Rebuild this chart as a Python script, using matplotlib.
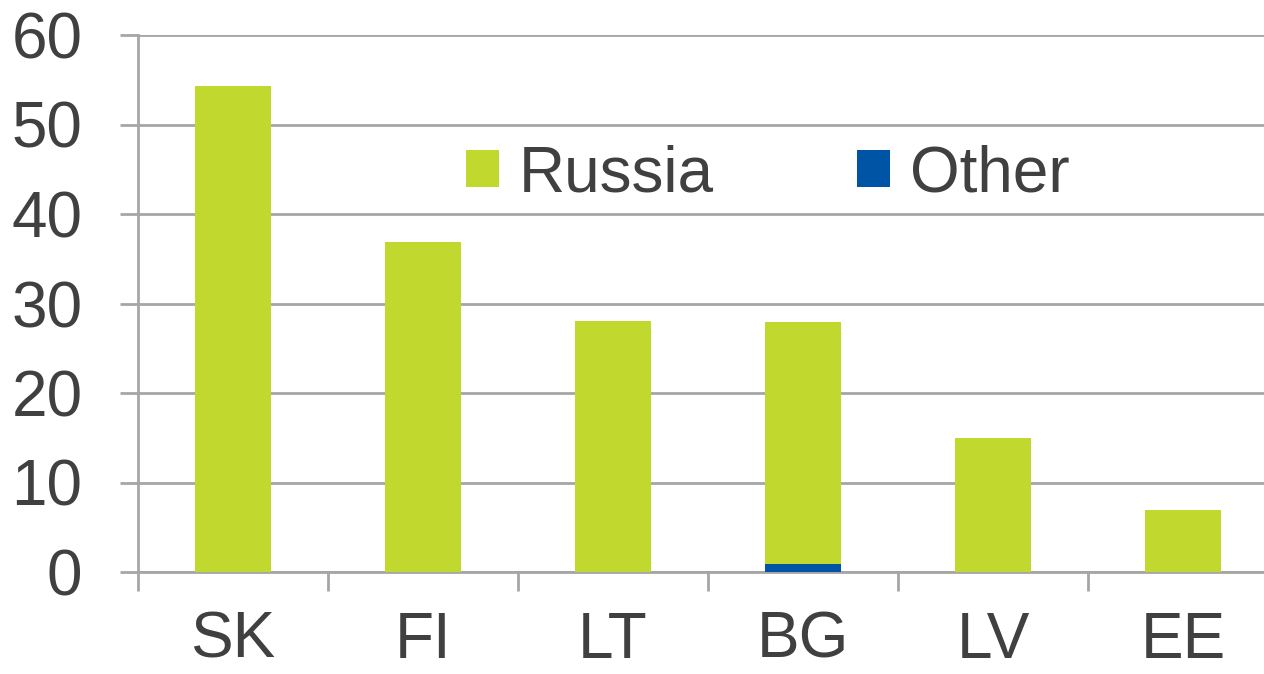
import numpy as np
import matplotlib.pyplot as plt

countries = ["SK", "FI", "LT", "BG", "LV", "EE"]
russia = [54.3, 36.9, 28.0, 27.0, 15.0, 6.9]
other = [0.0, 0.0, 0.0, 0.9, 0.0, 0.0]

green = "#c1d82f"
blue = "#0054a6"
grid_c = "#a6a6a6"
text_c = "#404040"

plt.rcParams["font.family"] = ["Liberation Sans", "DejaVu Sans"]

fig = plt.figure(figsize=(12.64, 6.74), dpi=100)
ax = fig.add_axes([138 / 1264, 102 / 674, 1140 / 1264, 537 / 674])

x = np.arange(len(countries))
ax.bar(x, other, width=0.4, color=blue, label="Other", zorder=3)
ax.bar(x, russia, width=0.4, bottom=other, color=green, label="Russia", zorder=3)

ax.set_xlim(-0.5, len(countries) - 0.5)
ax.set_ylim(0, 60)
ax.set_yticks(range(0, 61, 10))
ax.yaxis.grid(True, color=grid_c, linewidth=2, zorder=0)
ax.set_axisbelow(True)

ax.set_xticks(x)
ax.set_xticklabels(countries)
ax.set_xticks(np.arange(-0.5, len(countries), 1), minor=True)
ax.tick_params(axis="x", which="major", length=0, pad=28, labelsize=46, labelcolor=text_c)
ax.tick_params(axis="x", which="minor", length=14, width=2, color=grid_c, direction="out")
ax.tick_params(axis="y", length=13, width=2, color=grid_c, pad=27, labelsize=46, labelcolor=text_c)

for s in ["top", "right"]:
    ax.spines[s].set_visible(False)
for s in ["left", "bottom"]:
    ax.spines[s].set_color(grid_c)
    ax.spines[s].set_linewidth(2)

handles, labels = ax.get_legend_handles_labels()
leg = ax.legend(handles[::-1], labels[::-1], ncol=2, frameon=False, fontsize=46,
                labelcolor=text_c, handlelength=0.52, handleheight=0.52,
                handletextpad=0.3, columnspacing=2.25,
                loc="center left", bbox_to_anchor=(328 / 1140, (674 - 174 - 102) / 537),
                borderaxespad=0, borderpad=0)

fig.savefig("out.png", dpi=100)
